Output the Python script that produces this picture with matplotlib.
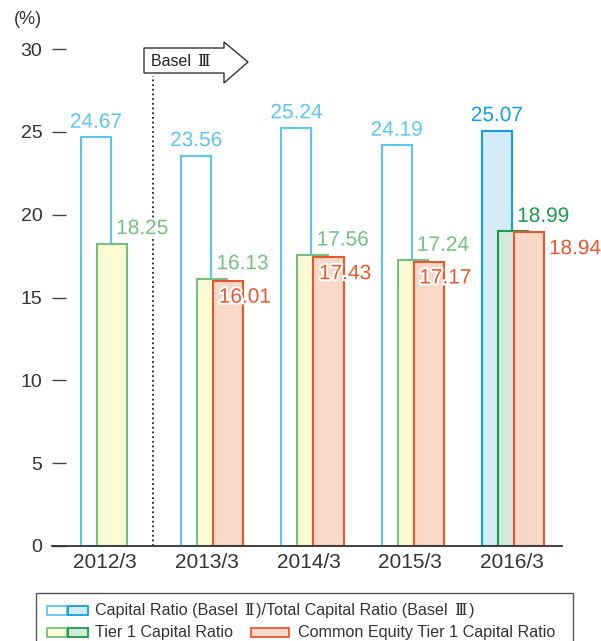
import matplotlib.pyplot as plt
import matplotlib.patheffects as pe
from matplotlib.patches import Rectangle, Polygon
import numpy as np

plt.rcParams['font.family'] = ['Liberation Sans', 'DejaVu Sans']

# data
years = ['2012/3', '2013/3', '2014/3', '2015/3', '2016/3']
total_ratio = [24.67, 23.56, 25.24, 24.19, 25.07]
tier1_ratio = [18.25, 16.13, 17.56, 17.24, 18.99]
cet1_ratio = [None, 16.01, 17.43, 17.17, 18.94]
yticks = [0, 5, 10, 15, 20, 25, 30]

# colours (last year is highlighted)
blue_edge = ['#5cc6f2'] * 4 + ['#129fe0']
blue_face = ['white'] * 4 + ['#d3ebf9']
green_edge = ['#74c083'] * 4 + ['#1a9a4c']
green_face = ['#fdfbd3'] * 4 + ['#d5eadb']
red_edge = '#e8582f'
red_face = '#fad8c7'

fig = plt.figure(figsize=(6.01, 6.41), dpi=100)
ax = fig.add_axes([52 / 601, 1 - 546 / 641, 510 / 601, 497 / 641])

x = np.arange(len(years))
w = 0.3
off_b, off_g, off_r = -0.16, 0.0, 0.16
lw = 1.5
halo = [pe.withStroke(linewidth=3, foreground='white')]

for i in range(len(years)):
    ax.bar(x[i] + off_b, total_ratio[i], w, facecolor=blue_face[i],
           edgecolor=blue_edge[i], linewidth=lw, zorder=2)
    ax.bar(x[i] + off_g, tier1_ratio[i], w, facecolor=green_face[i],
           edgecolor=green_edge[i], linewidth=lw, zorder=3)
    if cet1_ratio[i] is not None:
        ax.bar(x[i] + off_r, cet1_ratio[i], w, facecolor=red_face,
               edgecolor=red_edge, linewidth=lw, zorder=4)

    ax.annotate(f'{total_ratio[i]:.2f}', (x[i] + off_b, total_ratio[i]),
                xytext=(0, 4), textcoords='offset points', ha='center',
                va='bottom', fontsize=15, color=blue_edge[i], zorder=6,
                path_effects=halo)
    ax.annotate(f'{tier1_ratio[i]:.2f}', (x[i] + off_g, tier1_ratio[i]),
                xytext=(3, 4), textcoords='offset points', ha='left',
                va='bottom', fontsize=15, color=green_edge[i], zorder=6,
                path_effects=halo)
    if cet1_ratio[i] is not None:
        if i == len(years) - 1:
            xr, dx = x[i] + off_r + w / 2, 3.5
        else:
            xr, dx = x[i] + off_r - w / 2, 4
        ax.annotate(f'{cet1_ratio[i]:.2f}', (xr, cet1_ratio[i]),
                    xytext=(dx, -5), textcoords='offset points', ha='left',
                    va='top', fontsize=15, color=red_edge, zorder=6,
                    path_effects=halo)

ax.set_xlim(-0.5985, 4.489)
ax.set_ylim(0, 30)
ax.set_xticks(-0.0698 + 1.01496 * x)
ax.set_xticklabels(years, fontsize=15, color='#333333')
ax.set_yticks(yticks)
ax.set_yticklabels([str(t) for t in yticks], fontsize=14, color='#333333')
ax.tick_params(axis='y', direction='in', length=10, width=1, color='#444444', pad=7)
ax.tick_params(axis='x', length=0, pad=5)
for s in ['top', 'right', 'left']:
    ax.spines[s].set_visible(False)
ax.spines['bottom'].set_color('#333333')
ax.spines['bottom'].set_linewidth(1.3)
ax.spines['bottom'].set_zorder(7)

# Basel III divider
ax.plot([0.41, 0.41], [0, 28.4], linestyle=(0, (1, 1.6)), color='#222222',
        linewidth=1.3, zorder=1, clip_on=False)

# overlay in pixel coordinates for arrow, unit and legend
ov = fig.add_axes([0, 0, 1, 1])
ov.set_xlim(0, 601)
ov.set_ylim(641, 0)
ov.axis('off')
renderer = fig.canvas.get_renderer()


def rich_text(x0, y0, parts, size, color='#333333'):
    # draw pieces one after another, roman numerals in a serif face
    for s in parts:
        roman = s in ('Ⅱ', 'Ⅲ')
        fam = ['DejaVu Serif'] if roman else ['Liberation Sans']
        t = ov.text(x0 + (2 if roman else 0), y0, s, fontsize=size, color=color,
                    family=fam, va='baseline', ha='left')
        x0 = t.get_window_extent(renderer).x1 + (2 if roman else 0)
    return x0


arrow = Polygon([(144, 48), (224, 48), (224, 42), (248, 62), (224, 83),
                 (224, 73), (144, 73)], closed=True, facecolor='white',
                edgecolor='#333333', linewidth=1)
ov.add_patch(arrow)
rich_text(151, 66, ['Basel ', 'Ⅲ'], 11.5, '#222222')
ov.text(14, 20, '(%)', fontsize=13, color='#333333', va='center', ha='left')

# legend
ov.add_patch(Rectangle((36, 593), 537, 60, facecolor='white',
                       edgecolor='#555555', linewidth=1))
pw, ph = 20, 9
rows = [611, 633]
fs = 11.6
ov.add_patch(Rectangle((47, rows[0] - ph / 2 - 1), pw, ph, facecolor='white',
                       edgecolor=blue_edge[0], linewidth=1.3))
ov.add_patch(Rectangle((68, rows[0] - ph / 2 - 1), pw, ph, facecolor=blue_face[4],
                       edgecolor=blue_edge[4], linewidth=1.3))
rich_text(95, rows[0] + 4, ['Capital Ratio (Basel ', 'Ⅱ',
                            ')/Total Capital Ratio (Basel ', 'Ⅲ', ')'], fs)
ov.add_patch(Rectangle((47, rows[1] - ph / 2 - 1), pw, ph, facecolor=green_face[0],
                       edgecolor=green_edge[0], linewidth=1.3))
ov.add_patch(Rectangle((68, rows[1] - ph / 2 - 1), pw, ph, facecolor=green_face[4],
                       edgecolor=green_edge[4], linewidth=1.3))
rich_text(95, rows[1] + 4, ['Tier 1 Capital Ratio'], fs)
ov.add_patch(Rectangle((251, rows[1] - ph / 2 - 1), 38, ph, facecolor=red_face,
                       edgecolor=red_edge, linewidth=1.3))
rich_text(298, rows[1] + 4, ['Common Equity Tier 1 Capital Ratio'], fs)

fig.savefig('out.png', dpi=100)
